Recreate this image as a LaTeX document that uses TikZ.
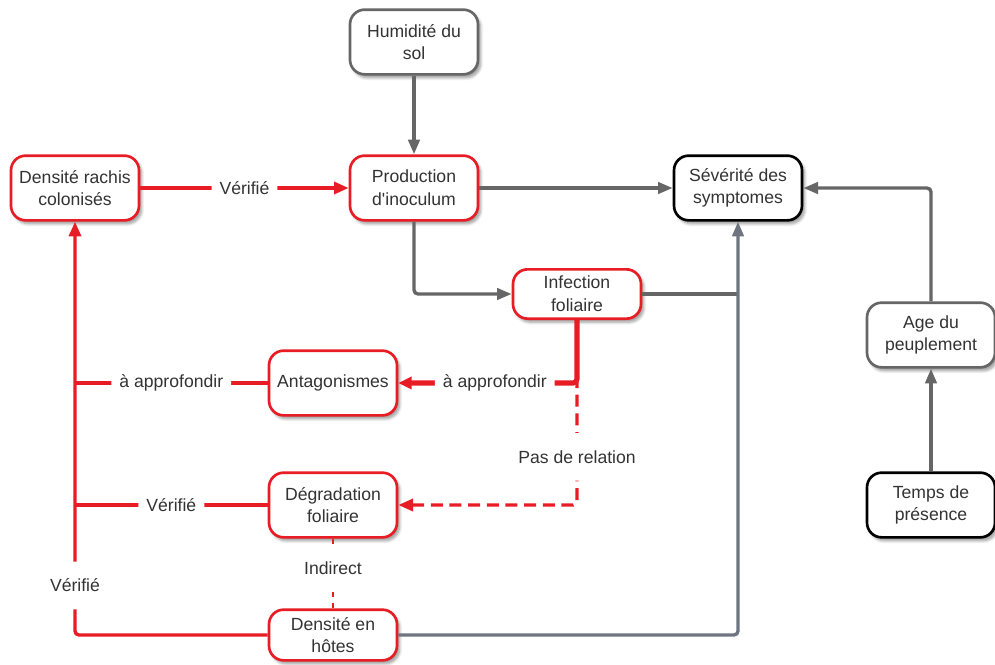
\documentclass[tikz,border=0pt]{standalone}
\usepackage{fontspec}
\setmainfont{Liberation Sans}
\usepackage{xcolor}
\usetikzlibrary{
    arrows.meta,
    positioning,
    shadows.blur
}
\definecolor{cRed}{RGB}{232,28,36}
\definecolor{cGray}{RGB}{102,102,102}
\definecolor{cSlate}{RGB}{110,117,128}
\definecolor{cText}{RGB}{51,51,51}
\tikzset{
  box/.style   = {draw, rounded corners=11pt, line width=2pt, fill=white,
                  minimum width=96pt, minimum height=48.5pt, align=center,
                  text=cText, font=\fontsize{13.2}{17}\selectfont,
                  blur shadow={shadow xshift=2pt, shadow yshift=-2.6pt,
                  shadow blur steps=6, shadow opacity=40}},
  rbox/.style  = {box, draw=cRed},
  gbox/.style  = {box, draw=cGray},
  kbox/.style  = {box, draw=black},
  lbl/.style   = {fill=white, text=cText, inner xsep=6pt, inner ysep=3pt,
                  font=\fontsize{13.2}{17}\selectfont},
  lblv/.style  = {lbl, inner ysep=13pt},
  garr/.style  = {-{Triangle[length=11pt,width=8.5pt]}, cGray,
                  line width=2.5pt, rounded corners=3pt},
  gline/.style = {cGray, line width=2.5pt, rounded corners=3pt},
  sarr/.style  = {-{Triangle[length=11pt,width=8.5pt]}, cSlate,
                  line width=2.5pt, rounded corners=3pt},
  rarr/.style  = {-{Triangle[length=11pt,width=9pt]}, cRed,
                  line width=2.5pt, rounded corners=3pt},
  rline/.style = {cRed, line width=2.5pt, rounded corners=3pt},
  rthick/.style= {-{Triangle[length=10pt,width=9pt]}, cRed,
                  line width=3.8pt, rounded corners=3pt},
  rdash/.style = {-{Triangle[length=11pt,width=9pt]}, cRed,
                  line width=2.5pt, dash pattern=on 9pt off 5pt,
                  rounded corners=3pt},
  rdot/.style  = {cRed, line width=1.8pt, dash pattern=on 4pt off 4pt}
}

\begin{document}
\begin{tikzpicture}[x=0.75pt, y=-0.75pt]
  \useasboundingbox (0,0) rectangle (995,664);

  % Nodes
  \node[gbox] (hum)   at (414,42)  {Humidit\'e du\\sol};
  \node[rbox] (prod)  at (414,188) {Production\\d\textquotesingle inoculum};
  \node[rbox] (rach)  at (75,188)  {Densit\'e rachis\\colonis\'es};
  \node[kbox] (sev)   at (738,188) {S\'ev\'erit\'e des\\symptomes};
  \node[rbox, minimum height=37pt] (inf) at (577,294) {Infection\\foliaire};
  \node[rbox] (anta)  at (333,383) {Antagonismes};
  \node[rbox] (deg)   at (333,505) {D\'egradation\\foliaire};
  \node[rbox, minimum height=38pt] (hote) at (333,635) {Densit\'e en\\h\^otes};
  \node[gbox] (age)   at (931,335) {Age du\\peuplement};
  \node[kbox] (temps) at (931,505) {Temps de\\pr\'esence};

  % Gray links
  \draw[garr] (hum) -- (prod);
  \draw[garr] (prod) -- (sev);
  \draw[garr] (prod.south) |- (inf.west);
  \draw[gline] (inf.east) -- (inf.east -| sev.south);
  \draw[sarr] (hote.east) -| (sev.south);
  \draw[garr] (age.north) |- (sev.east);
  \draw[garr] (temps) -- (age);

  % Red links
  \draw[rarr] (rach) -- node[lbl]{V\'erifi\'e} (prod);
  \draw[rdash] (inf.south) |- node[lblv, pos=0.37]{Pas de relation} (deg.east);
  \draw[rthick] (inf.south) |- node[lbl, pos=0.73]{\`a approfondir} (anta.east);
  \draw[rline] (anta.west) -- node[lbl]{\`a approfondir} (anta.west -| rach.south);
  \draw[rline] (deg.west) -- node[lbl]{V\'erifi\'e} (deg.west -| rach.south);
  \draw[rarr] (hote.west) -| node[lblv, pos=0.56]{V\'erifi\'e} (rach.south);
  \draw[rdot] (deg) -- node[lblv, pos=0.42]{Indirect} (hote);
\end{tikzpicture}
\end{document}
